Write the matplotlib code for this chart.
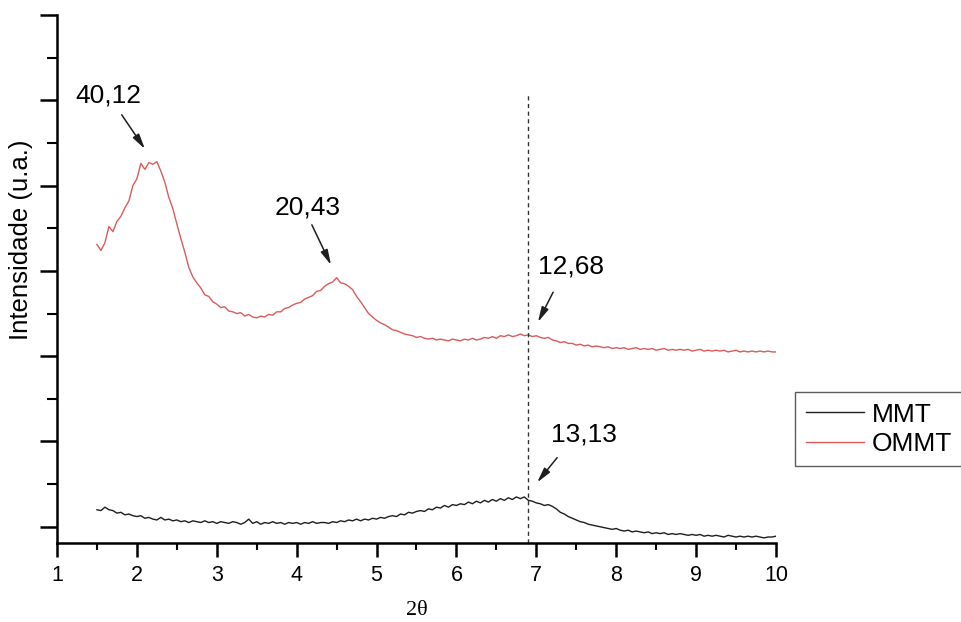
import numpy as np
import matplotlib
matplotlib.use("Agg")
from matplotlib import pyplot as plt

matplotlib.rcParams.update({'font.family': 'Liberation Sans'})

# 2theta grid, 1.50 .. 10.00 step 0.05
two_theta = np.round(np.arange(1.5, 10.0001, 0.05), 2)

# OMMT intensity (a.u.)
ommt = [
    3.31, 3.24, 3.33, 3.52, 3.46, 3.58, 3.64, 3.74, 3.82, 4.00,   # 1.50-1.95
    4.08, 4.26, 4.19, 4.27, 4.25, 4.28, 4.17, 4.04, 3.86, 3.73,   # 2.00-2.45
    3.55, 3.38, 3.22, 3.04, 2.93, 2.86, 2.80, 2.72, 2.70, 2.64,   # 2.50-2.95
    2.61, 2.57, 2.58, 2.53, 2.52, 2.50, 2.51, 2.47, 2.49, 2.46,   # 3.00-3.45
    2.45, 2.47, 2.46, 2.49, 2.48, 2.52, 2.52, 2.56, 2.57, 2.60,   # 3.50-3.95
    2.62, 2.63, 2.67, 2.69, 2.71, 2.76, 2.77, 2.82, 2.85, 2.87,   # 4.00-4.45
    2.92, 2.86, 2.85, 2.82, 2.78, 2.70, 2.64, 2.57, 2.50, 2.46,   # 4.50-4.95
    2.42, 2.39, 2.37, 2.34, 2.31, 2.30, 2.28, 2.26, 2.25, 2.24,   # 5.00-5.45
    2.22, 2.23, 2.21, 2.20, 2.21, 2.19, 2.20, 2.19, 2.18, 2.20,   # 5.50-5.95
    2.19, 2.18, 2.20, 2.19, 2.21, 2.19, 2.20, 2.22, 2.21, 2.23,   # 6.00-6.45
    2.21, 2.24, 2.23, 2.25, 2.23, 2.24, 2.26, 2.24, 2.25, 2.23,   # 6.50-6.95
    2.24, 2.22, 2.21, 2.22, 2.19, 2.18, 2.16, 2.17, 2.15, 2.15,   # 7.00-7.45
    2.13, 2.14, 2.12, 2.13, 2.11, 2.12, 2.11, 2.10, 2.11, 2.09,   # 7.50-7.95
    2.10, 2.09, 2.10, 2.08, 2.09, 2.10, 2.08, 2.09, 2.08, 2.09,   # 8.00-8.45
    2.07, 2.08, 2.09, 2.07, 2.08, 2.07, 2.08, 2.07, 2.08, 2.06,   # 8.50-8.95
    2.07, 2.08, 2.06, 2.07, 2.06, 2.07, 2.06, 2.07, 2.05, 2.06,   # 9.00-9.45
    2.07, 2.05, 2.06, 2.05, 2.06, 2.05, 2.06, 2.05, 2.06, 2.05,   # 9.50-9.95
    2.05,                                                         # 10.00
]

# MMT intensity (a.u.)
mmt = [
    0.20, 0.19, 0.23, 0.20, 0.19, 0.16, 0.17, 0.14, 0.15, 0.13,
    0.12, 0.13, 0.10, 0.11, 0.09, 0.08, 0.11, 0.08, 0.09, 0.07,
    0.08, 0.06, 0.07, 0.05, 0.07, 0.06, 0.05, 0.07, 0.05, 0.06,
    0.04, 0.06, 0.05, 0.04, 0.06, 0.05, 0.03, 0.05, 0.09, 0.04,
    0.06, 0.03, 0.05, 0.04, 0.06, 0.04, 0.05, 0.03, 0.05, 0.04,
    0.05, 0.03, 0.05, 0.04, 0.06, 0.04, 0.05, 0.05, 0.04, 0.06,
    0.05, 0.07, 0.06, 0.08, 0.07, 0.09, 0.07, 0.09, 0.08, 0.10,
    0.09, 0.11, 0.10, 0.12, 0.13, 0.12, 0.15, 0.14, 0.17, 0.16,
    0.18, 0.19, 0.18, 0.21, 0.20, 0.23, 0.22, 0.25, 0.23, 0.26,
    0.25, 0.27, 0.26, 0.29, 0.27, 0.30, 0.28, 0.31, 0.29, 0.32,
    0.30, 0.33, 0.31, 0.34, 0.32, 0.35, 0.33, 0.35, 0.31, 0.30,
    0.28, 0.27, 0.25, 0.26, 0.24, 0.21, 0.17, 0.15, 0.12, 0.10,
    0.08, 0.06, 0.05, 0.03, 0.02, 0.01, 0.00, -0.01, -0.02, -0.03,
    -0.02, -0.04, -0.05, -0.04, -0.06, -0.05, -0.06, -0.07, -0.06, -0.08,
    -0.07, -0.08, -0.07, -0.09, -0.08, -0.09, -0.08, -0.09, -0.10, -0.09,
    -0.10, -0.09, -0.11, -0.10, -0.11, -0.10, -0.11, -0.12, -0.10, -0.11,
    -0.12, -0.11, -0.12, -0.11, -0.12, -0.11, -0.12, -0.13, -0.12, -0.12,
    -0.11,
]

# peak labels: text, text position, arrow tail, arrow head
peak_labels = ["40,12", "20,43", "12,68", "13,13"]
label_xy = [(1.64, 5.06), (4.14, 3.74), (7.43, 3.05), (7.60, 1.08)]
arrow_from = [(1.81, 4.83), (4.19, 3.54), (7.21, 2.75), (7.26, 0.81)]
arrow_to = [(2.10, 4.43), (4.43, 3.07), (7.02, 2.40), (7.01, 0.52)]
ref_line_x = 6.895

fig = plt.figure(figsize=(9.62, 6.22), dpi=100)
ax = fig.add_axes([57/962, 1-543/622, 719/962, 528/622])

ax.plot(two_theta, mmt, color='#1e1e1e', lw=1.0, label='MMT')
ax.plot(two_theta, ommt, color='#dc5a5a', lw=1.0, label='OMMT')
ax.plot([ref_line_x, ref_line_x], [-0.19, 5.06], color='#333333',
        lw=1.0, ls=(0, (3, 2.5)))

for txt, pos, a, b in zip(peak_labels, label_xy, arrow_from, arrow_to):
    ax.text(pos[0], pos[1], txt, fontsize=19, ha='center', va='center')
    ax.annotate('', xy=b, xytext=a,
                arrowprops=dict(arrowstyle='-|>,head_length=0.9,head_width=0.22',
                                color='#1e1e1e', lw=1.1, shrinkA=0, shrinkB=0))

ax.set_xlim(1, 10)
ax.set_ylim(-0.19, 6.0)
ax.set_xticks(np.arange(1, 11))
ax.set_xticks(np.arange(1.5, 10, 1.0), minor=True)
ax.set_yticks(np.arange(0, 6.5, 1))
ax.set_yticks(np.arange(0.5, 6.0, 1), minor=True)
ax.set_yticklabels([])

for s in ['top', 'right']:
    ax.spines[s].set_visible(False)
for s in ['left', 'bottom']:
    ax.spines[s].set_linewidth(1.8)

ax.tick_params(which='major', length=10, width=1.8, labelsize=15.5, pad=6)
ax.tick_params(which='minor', length=5, width=1.5)
ax.tick_params(axis='y', which='major', length=12)
ax.tick_params(axis='y', which='minor', length=7)

ax.set_ylabel("Intensidade (u.a.)", fontsize=18.5)
ax.yaxis.set_label_coords(-0.034, 0.574)
ax.set_xlabel("2θ", fontsize=16, family='Liberation Serif')
ax.xaxis.set_label_coords(0.5, -0.110)

fig.legend(loc='upper left', bbox_to_anchor=(795/962, 1-392/622),
           fontsize=19, frameon=True, fancybox=False, edgecolor='#333333',
           handlelength=2.2, handletextpad=0.3, labelspacing=0.2,
           borderpad=0.4, borderaxespad=0)

fig.savefig('out.png', dpi=100)
